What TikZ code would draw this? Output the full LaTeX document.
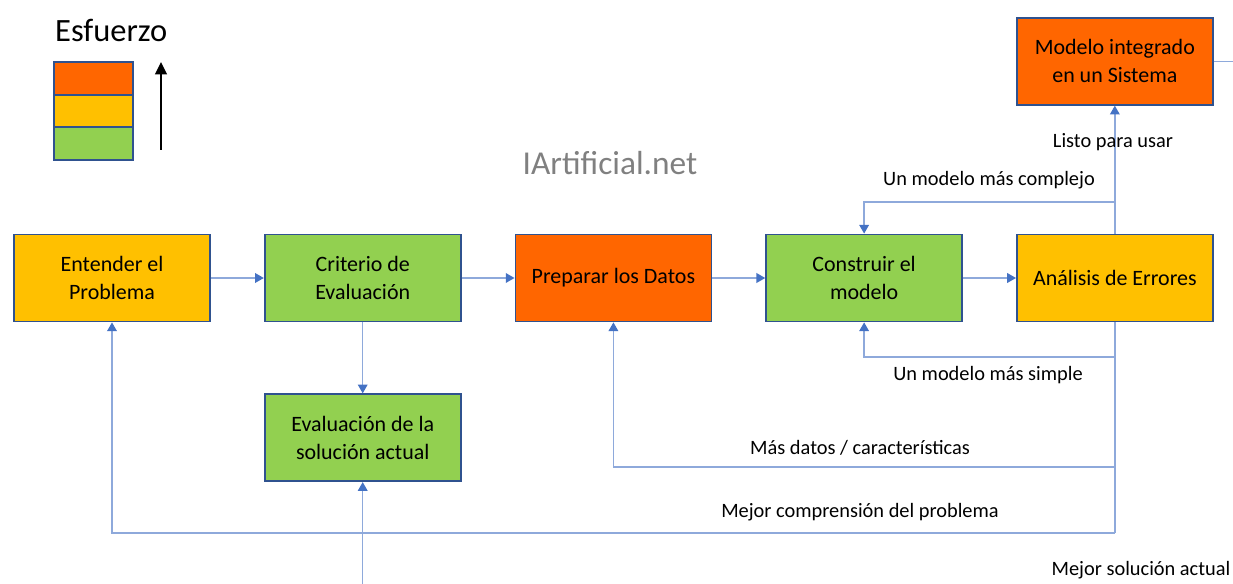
\documentclass[tikz,border=0pt]{standalone}
\usepackage{fontspec}
\setmainfont{Carlito}
\usetikzlibrary{positioning,arrows.meta}

\definecolor{naranja}{HTML}{FF6600}
\definecolor{amarillo}{HTML}{FFC000}
\definecolor{verde}{HTML}{92D050}
\definecolor{borde}{HTML}{2F528F}
\definecolor{linea}{HTML}{8EA9DB}
\definecolor{punta}{HTML}{4472C4}

\begin{document}
\begin{tikzpicture}[x=0.02cm, y=-0.02cm, node distance=1.06cm,
  paso/.style={draw=borde, line width=1pt, minimum width=3.92cm, minimum height=1.74cm,
    align=center, font=\fontsize{12.5}{16}\selectfont, inner sep=2pt},
  link/.style={draw=linea, line width=0.8pt, -{Triangle[length=5pt,width=5.5pt,color=punta]}},
  etiq/.style={font=\fontsize{11.6}{14}\selectfont}]
  \useasboundingbox (0,0) rectangle (1233,584);
  % leyenda
  \node[anchor=west, font=\fontsize{18.5}{20}\selectfont] (esf) at (49,30) {Esfuerzo};
  \filldraw[fill=naranja, draw=borde, line width=0.8pt] (54,62) rectangle (133,95);
  \filldraw[fill=amarillo, draw=borde, line width=0.8pt] (54,95) rectangle (133,127);
  \filldraw[fill=verde, draw=borde, line width=0.8pt] (54,127) rectangle (133,160);
  \draw[line width=1.6pt, -{Triangle[length=7pt,width=6.5pt]}] (161,150) -- (161,62);
  \node[font=\fontsize{19}{22}\selectfont, text=gray] (web) at (610,163) {IArtificial.net};
  % pasos
  \node[paso, fill=amarillo] (ent) at (112,278) {Entender el\\Problema};
  \node[paso, fill=verde] (crit) [right=of ent] {Criterio de\\Evaluación};
  \node[paso, fill=naranja] (prep) [right=of crit] {Preparar los Datos};
  \node[paso, fill=verde] (cons) [right=of prep] {Construir el\\modelo};
  \node[paso, fill=amarillo] (anal) [right=of cons] {Análisis de Errores};
  \node[paso, fill=verde] (eval) [below=1.42cm of crit] {Evaluación de la\\solución actual};
  \node[paso, fill=naranja] (mod) [above=2.56cm of anal] {Modelo integrado\\en un Sistema};
  % puntos de giro
  \coordinate (c1) at (anal.north |- 0,202);
  \coordinate (c2) at (anal.south |- 0,357);
  \coordinate (c3) at (anal.south |- 0,467);
  \coordinate (c4) at (anal.south |- 0,533);
  \coordinate (ini) at (eval.south |- 0,584);
  \coordinate (fin) at (mod.east -| 1233,0);
  \path[link]
    (ent) edge (crit)
    (crit) edge (prep)
    (prep) edge (cons)
    (cons) edge (anal)
    (crit) edge (eval)
    (anal) edge (mod)
    (ini) edge (eval.south);
  \draw[link] (c1) -| (cons.north);
  \draw[link] (c2) -| (cons.south);
  \draw[link] (c3) -| (prep.south);
  \draw[link] (c4) -| (ent.south);
  \draw[draw=linea, line width=0.8pt] (anal.south) -- (c4);
  \draw[draw=linea, line width=0.8pt] (mod.east) -- (fin);
  % etiquetas
  \node[etiq] (lis) at (1113,142) {Listo para usar};
  \node[etiq] (com) at (989,180) {Un modelo más complejo};
  \node[etiq] (sim) at (988,375) {Un modelo más simple};
  \node[etiq] (dat) at (860,448) {Más datos / características};
  \node[etiq] (pro) at (860,512) {Mejor comprensión del problema};
  \node[etiq] (sol) at (1141,570) {Mejor solución actual};
\end{tikzpicture}
\end{document}
